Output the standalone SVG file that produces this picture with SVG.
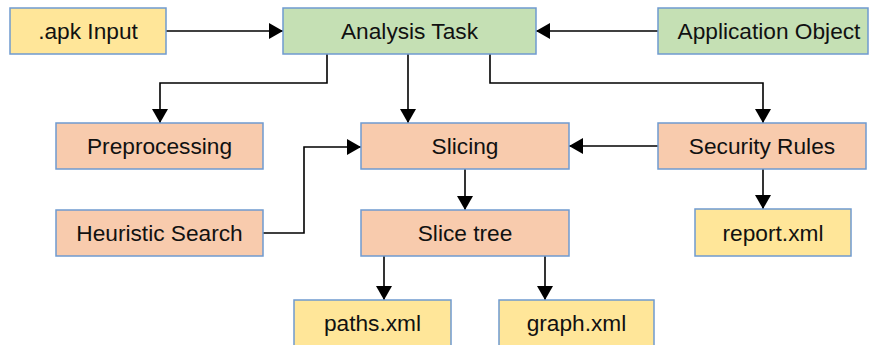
<svg xmlns="http://www.w3.org/2000/svg" width="870" height="345" viewBox="0 0 870 345">
  <defs>
    <style>
      .box { stroke: #6F9AD0; stroke-width: 1.5; }
      .yellow { fill: #FFE699; }
      .green { fill: #C5E0B4; }
      .orange { fill: #F8CBAD; }
      .label { font-family: "Liberation Sans", Arial, sans-serif; font-size: 22.7px; fill: #111; text-anchor: middle; }
      .wire { fill: none; stroke: #000; stroke-width: 1.6; marker-end: url(#arrow); }
    </style>
    <marker id="arrow" viewBox="0 0 14 16" refX="14" refY="8" markerWidth="14" markerHeight="16" markerUnits="userSpaceOnUse" orient="auto">
      <path d="M0,0 L14,8 L0,16 Z" fill="#000"/>
    </marker>
  </defs>
  <rect width="870" height="345" fill="#fff"/>

  <g id="connectors">
    <path class="wire" d="M166,31 H283"/>
    <path class="wire" d="M866,31 H536"/>
    <path class="wire" d="M327,54 V83 H160 V123"/>
    <path class="wire" d="M408,54 V123"/>
    <path class="wire" d="M490,54 V83 H763 V123"/>
    <path class="wire" d="M263,233 H304 V147 H361"/>
    <path class="wire" d="M658,146 H569"/>
    <path class="wire" d="M465,169 V210"/>
    <path class="wire" d="M763,169 V209"/>
    <path class="wire" d="M384,256 V300"/>
    <path class="wire" d="M545,256 V300"/>
  </g>

  <g id="apk-input">
    <rect class="box yellow" x="10" y="8" width="156" height="46"/>
    <text class="label" x="88" y="39">.apk Input</text>
  </g>
  <g id="analysis-task">
    <rect class="box green" x="283" y="8" width="253" height="46"/>
    <text class="label" x="409.5" y="39">Analysis Task</text>
  </g>
  <g id="application-object">
    <rect class="box green" x="658" y="8" width="210" height="46"/>
    <text class="label" x="769" y="39">Application Object</text>
  </g>
  <g id="preprocessing">
    <rect class="box orange" x="56" y="123" width="207" height="46"/>
    <text class="label" x="159.5" y="154">Preprocessing</text>
  </g>
  <g id="slicing">
    <rect class="box orange" x="361" y="123" width="208" height="46"/>
    <text class="label" x="465" y="154">Slicing</text>
  </g>
  <g id="security-rules">
    <rect class="box orange" x="658" y="123" width="208" height="46"/>
    <text class="label" x="762" y="154">Security Rules</text>
  </g>
  <g id="heuristic-search">
    <rect class="box orange" x="56" y="210" width="207" height="46"/>
    <text class="label" x="159.5" y="241">Heuristic Search</text>
  </g>
  <g id="slice-tree">
    <rect class="box orange" x="361" y="210" width="208" height="46"/>
    <text class="label" x="465" y="241">Slice tree</text>
  </g>
  <g id="report-xml">
    <rect class="box yellow" x="695" y="209" width="156" height="47"/>
    <text class="label" x="773" y="241">report.xml</text>
  </g>
  <g id="paths-xml">
    <rect class="box yellow" x="294" y="300" width="157" height="50"/>
    <text class="label" x="372.5" y="331">paths.xml</text>
  </g>
  <g id="graph-xml">
    <rect class="box yellow" x="499" y="300" width="155" height="50"/>
    <text class="label" x="576.5" y="331">graph.xml</text>
  </g>
</svg>
